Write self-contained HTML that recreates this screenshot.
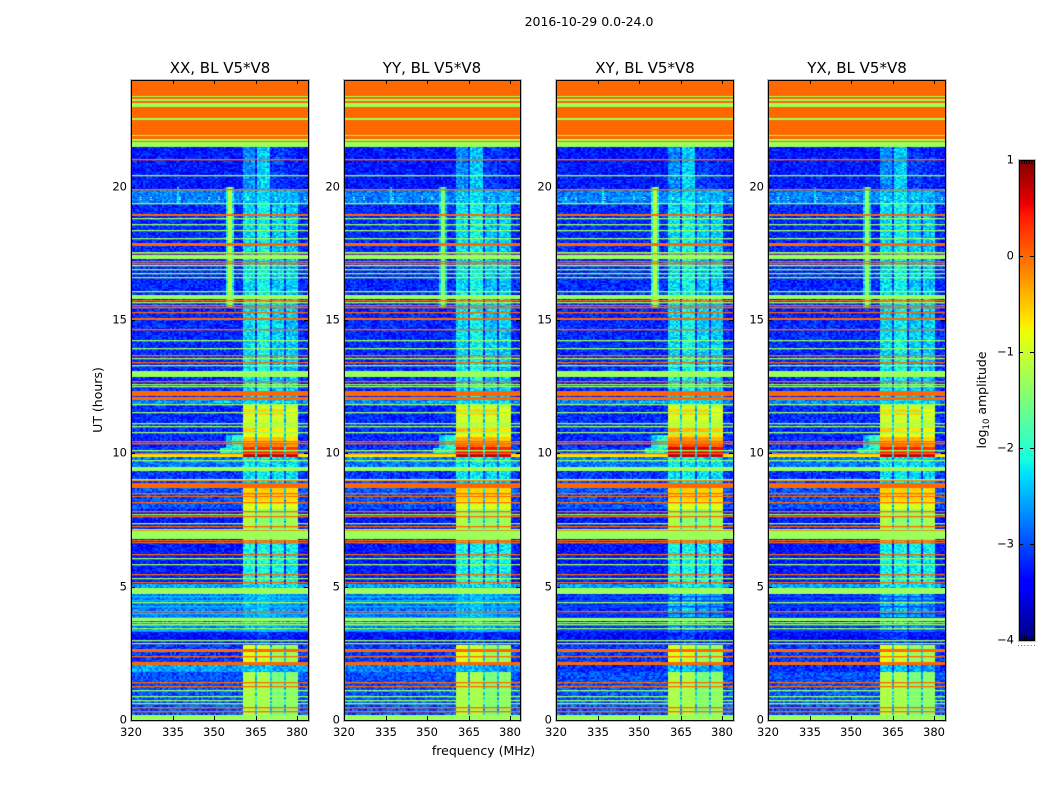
<!DOCTYPE html>
<html lang="en">
<head>
<meta charset="utf-8">
<title>2016-10-29 spectrogram</title>
<style>
html,body{margin:0;padding:0;background:#fff;width:1050px;height:800px;overflow:hidden}
#stage{position:relative;width:1050px;height:800px;font-family:"DejaVu Sans","Liberation Sans",sans-serif}
canvas{position:absolute;display:block}
svg{position:absolute;left:0;top:0}
text{fill:#000;font-family:"DejaVu Sans","Liberation Sans",sans-serif}
</style>
</head>
<body>
<div id="stage">
<canvas id="panel0" width="177" height="640" style="left:131px;top:80px"></canvas>
<canvas id="panel1" width="176" height="640" style="left:344px;top:80px"></canvas>
<canvas id="panel2" width="177" height="640" style="left:556px;top:80px"></canvas>
<canvas id="panel3" width="177" height="640" style="left:768px;top:80px"></canvas>
<canvas id="colorbar" width="15" height="480" style="left:1019px;top:160px"></canvas>
<svg id="overlay" width="1050" height="800" viewBox="0 0 1050 800">
  <text x="589" y="26" text-anchor="middle" font-size="12.5">2016-10-29 0.0-24.0</text>
  <text x="220" y="73" text-anchor="middle" font-size="15">XX, BL V5*V8</text>
  <text x="432" y="73" text-anchor="middle" font-size="15">YY, BL V5*V8</text>
  <text x="645" y="73" text-anchor="middle" font-size="15">XY, BL V5*V8</text>
  <text x="857" y="73" text-anchor="middle" font-size="15">YX, BL V5*V8</text>
  <text x="483.5" y="755" text-anchor="middle" font-size="12.5">frequency (MHz)</text>
  <text transform="translate(102,400) rotate(-90)" text-anchor="middle" font-size="12.5">UT (hours)</text>
  <text transform="translate(986,400) rotate(-90)" text-anchor="middle" font-size="12.5">log<tspan font-size="8.5" dy="3">10</tspan><tspan dy="-3"> amplitude</tspan></text>
</svg>
</div>
<script>
/* ---------- chart data (frequency in MHz, time in UT hours, level in log10 amplitude) ---------- */
const freqTicks = [320, 335, 350, 365, 380];
const hourTicks = [0, 5, 10, 15, 20];
const colorbarTicks = [1, 0, -1, -2, -3, -4];

const orangeLevel = 0;
const greenLevel = -1.3;

/* full-width saturated bands: [start hour, end hour] */
const orangeBands = [[21.66,24],[18.91,18.99],[17.78,17.87],[15.0,15.08],[12.15,12.34],[12.0,12.10],[8.69,8.88],[8.35,8.40],[2.55,2.66],[2.08,2.16]];
const greenBands = [[23.35,23.40],[23.23,23.27],[22.99,23.12],[22.51,22.58],[21.89,21.94],[21.72,21.78],[21.49,21.66],[17.28,17.45],[15.78,15.93],[12.86,13.07],[9.34,9.49],[6.79,7.07],[4.73,4.95],[3.71,3.81],[0,0.18]];

/* full-width single-row lines: hour */
const orangeLines = [21.03,19.90,17.52,17.22,17.15,15.75,15.55,15.50,15.29,14.66,13.70,13.44,12.70,10.47,10.38,10.02,8.99,8.50,8.16,7.83,7.66,7.29,7.13,6.75,6.69,6.21,5.46,5.19,4.10,2.40,1.41,1.29,0.50,0.33];
const greenLines = [20.43,19.40,18.81,18.59,18.36,18.06,17.56,17.05,16.90,16.75,16.60,16.10,15.68,14.24,13.94,13.56,13.31,12.59,12.53,11.85,11.55,11.15,11.04,10.79,10.13,9.75,9.04,7.73,7.40,7.16,6.06,5.85,5.33,4.41,3.68,3.60,3.45,3.01,2.90,1.13,0.90,0.75,0.63];

/* pale stripes in the 3.3 to 4.7 h interval: hour */
const paleStripeHours = [4.66,4.50,4.28,4.02,3.86,3.56,3.38];
const paleStripeLevels = [-2.45, -2.45, -3.0, -3.0];

/* time regions: [start hour, end hour, level outside blocks, block 1, block 2, block 3, block 4] */
const timeRegions = [
 [0,1.80,-3.0,-1.15,-1.2,-1.5,-1.4],
 [1.80,2.15,-2.65,-2.5,-2.5,-2.6,-2.6],
 [2.15,2.81,-3.1,-0.9,-1.0,-1.35,-1.3],
 [2.81,3.30,-3.35,-3.2,-3.1,-3.3,-3.3],
 [3.30,4.73,-2.8,-2.5,-2.4,-2.6,-2.7],
 [4.73,5.10,-2.6,-2.3,-2.3,-2.3,-2.3],
 [5.10,6.75,-3.3,-2.1,-2.1,-2.2,-2.2],
 [6.75,7.88,-3.3,-1.15,-1.4,-1.4,-1.25],
 [7.88,8.2,-3.0,-0.9,-0.9,-0.9,-0.9],
 [8.2,8.89,-3.0,-0.55,-0.55,-0.55,-0.6],
 [8.89,9.38,-3.1,-2.25,-2.2,-2.3,-2.3],
 [9.38,9.87,-2.8,-2.2,-2.2,-2.3,-2.3],
 [9.87,10.0,-0.7,0.75,0.75,0.7,0.65],
 [10.0,10.24,-3.1,0.35,0.35,0.35,0.25],
 [10.24,10.35,-3.2,-0.1,-0.1,-0.1,-0.3],
 [10.35,10.58,-3.2,-0.45,-0.45,-0.45,-0.65],
 [10.58,10.73,-3.2,-0.85,-0.85,-0.85,-0.95],
 [10.73,10.95,-3.2,-0.55,-0.7,-0.7,-0.8],
 [10.95,11.44,-3.2,-1.0,-1.0,-1.0,-1.05],
 [11.44,11.66,-3.2,-0.6,-0.55,-0.55,-0.8],
 [11.66,11.85,-3.2,-1.0,-1.0,-1.0,-1.1],
 [11.85,12.0,-2.7,-2.3,-2.3,-2.3,-2.3],
 [12.0,19.39,-3.2,-2.3,-2.15,-2.4,-2.4],
 [19.39,19.88,-2.75,-2.4,-2.3,-2.5,-2.5],
 [19.88,21.49,-3.3,-2.7,-2.4,-3.1,-3.2]
];

/* the four bright frequency blocks: [start MHz, end MHz] */
const blockEdges = [[360.5,365],[365.8,370.2],[371,375.2],[376,380]];

/* extra brightness of the 10 to 11 h blocks: XX, YY, XY, YX */
const panelBrightBoost = [0, 0.1, 0.25, 0.05];

/* per-panel outside-block level for some intervals: [start hour, end hour, XX, YY, XY, YX] */
const panelOutsideLevels = [
 [3.30,4.73,-2.8,-2.85,-3.2,-3.2],
 [1.80,2.15,-2.6,-2.75,-3.2,-3.2]
];

/* soft patches left of the blocks: [start MHz, end MHz, start hour, end hour, level] */
const glowPatches = [[354,360.5,10.2,10.7,-2.5],[356.5,360.5,10.2,10.7,-2.0],[350,360.5,11.88,11.97,-2.4],[352,360.5,10.0,10.2,-2.2]];

/* narrow interference line near 355.8 MHz */
const lineFreq = 355.8;
const lineStartHour = 15.5;
const lineEndHour = 20.0;
const lineLevelByPanel = [-1.15, -1.5, -1.15, -1.4];
const lineHaloByPanel = [-2.2, -2.5, -2.2, -2.4];

/* short faint line near 337.5 MHz */
const shortLineFreq = 337.5;
const shortLineStartHour = 19.4;
const shortLineEndHour = 20.0;
const shortLineLevel = -2.3;

/* bright spots in the 19.5 h interference row: MHz */
const spotFreqs = [323.3,326.9,337.5,348,351.3,361.9,372,382.7];
const spotHours = [19.52,19.62];
const spotLevel = -0.9;

/* fine-grain deviation sample (hand estimated, the per-cell noise is not read individually) */
const grainSample = [0.3,-0.7,0.9,-0.2,0.5,-0.9,0.1,0.7,-0.4,-0.8,0.6,0.2,-0.5,1,-0.1,-0.6,0.4,0.8,-1,0.2,-0.3,0.7,-0.7,0.5,0,-0.9,0.9,-0.2,0.3,-0.5,0.6,-0.8,0.1,1,-0.4,0.4,-0.6,0.2,0.8,-1,0.5,-0.1,-0.7,0.7,0.3,-0.3,0.9,-0.5,0,0.6,-0.9,0.4,-0.2,0.8,-0.6,0.1,-0.8,0.5,0.2,-0.4,0.7];

/* ---------- axis functions ---------- */
const panelLefts = [131, 344, 556, 768];
const panelWidths = [177, 176, 177, 177];
const pxPerMHz = 2.767;
const pxPerHour = 640 / 24;
const plotTop = 80;
const plotBottom = 720;
const cellMHz = 0.7;
const cellHours = 0.05;
function xOf(panel, f) { return panelLefts[panel] + (f - 320) * pxPerMHz; }
function yOf(h) { return plotBottom - h * pxPerHour; }
function innerX(f) { return (f - 320) * pxPerMHz; }
function innerY(h) { return 640 - h * pxPerHour; }
const cbarTop = 160;
const cbarHeight = 480;
function cbarY(v) { return cbarTop + (1 - v) / 5 * cbarHeight; }

function ramp(t, pts) {
  for (let i = 1; i < pts.length; i++) {
    if (t <= pts[i][0]) {
      const a = pts[i - 1], b = pts[i];
      return a[1] + (b[1] - a[1]) * (t - a[0]) / (b[0] - a[0]);
    }
  }
  return pts[pts.length - 1][1];
}
function jet(v) {
  const t = Math.max(0, Math.min(1, (v + 4) / 5));
  const r = ramp(t, [[0,0],[0.35,0],[0.66,1],[0.89,1],[1,0.5]]);
  const g = ramp(t, [[0,0],[0.125,0],[0.375,1],[0.64,1],[0.91,0],[1,0]]);
  const b = ramp(t, [[0,0.5],[0.11,1],[0.34,1],[0.65,0],[1,0]]);
  return 'rgb(' + Math.round(r * 255) + ',' + Math.round(g * 255) + ',' + Math.round(b * 255) + ')';
}

/* ---------- heatmap drawing ---------- */
function regionAt(h) {
  for (const r of timeRegions) { if (h >= r[0] && h < r[1]) return r; }
  return timeRegions[timeRegions.length - 1];
}
function outsideLevel(panel, h, region) {
  for (const o of panelOutsideLevels) { if (h >= o[0] && h < o[1]) return o[2 + panel]; }
  return region[2];
}
function cellLevel(panel, f, h) {
  const region = regionAt(h);
  const outer = outsideLevel(panel, h, region);
  let level = outer;
  if (f >= 360.5 && f < 380) {
    let inside = false;
    for (let b = 0; b < blockEdges.length; b++) {
      if (f >= blockEdges[b][0] && f < blockEdges[b][1]) {
        level = region[3 + b];
        if (h >= 10.0 && h < 11.0) level += panelBrightBoost[panel];
        inside = true;
      }
    }
    if (!inside) level = region[3] > -1.7 ? -2.4 : outer + 0.1;
  }
  for (const g of glowPatches) {
    if (f >= g[0] && f < g[1] && h >= g[2] && h < g[3]) level = Math.max(level, g[4]);
  }
  if (h >= lineStartHour && h < lineEndHour) {
    const d = Math.abs(f - lineFreq);
    if (d < 0.6) level = lineLevelByPanel[panel];
    else if (d < 1.4) level = Math.max(level, lineHaloByPanel[panel]);
  }
  if (h >= shortLineStartHour && h < shortLineEndHour && Math.abs(f - shortLineFreq) < 0.35) {
    level = Math.max(level, shortLineLevel);
  }
  return level;
}
/* one row: a full-strength pixel plus a one-third pixel below, about 1.33 px like the source rows */
function drawRowLine(ctx, w, h) {
  const y = Math.round(innerY(h));
  ctx.fillRect(0, y, w, 1);
  ctx.globalAlpha = 0.33;
  ctx.fillRect(0, y + 1, w, 1);
  ctx.globalAlpha = 1;
}
function drawBand(ctx, w, b) {
  const y = Math.round(innerY(b[1]));
  ctx.fillRect(0, y, w, Math.max(1, Math.round(innerY(b[0])) - y));
}
function drawPanel(panel) {
  const ctx = document.getElementById('panel' + panel).getContext('2d');
  const nCols = Math.ceil(64 / cellMHz);
  const nRows = Math.ceil(24 / cellHours);
  for (let row = 0; row < nRows; row++) {
    const h = row * cellHours;
    const y1 = Math.round(innerY(h));
    const y0 = Math.round(innerY(h + cellHours));
    for (let col = 0; col < nCols; col++) {
      const f = 320 + col * cellMHz;
      const x0 = Math.round(innerX(f));
      const x1 = Math.round(innerX(f + cellMHz));
      const level = cellLevel(panel, f + cellMHz / 2, h + cellHours / 2);
      const amp = level > -1.6 ? 0.07 : 0.33;
      const g = grainSample[(col * col * 3 + row * row * 5 + col * row + panel * 17) % grainSample.length];
      ctx.fillStyle = jet(level + amp * g);
      ctx.fillRect(x0, y0, Math.max(1, x1 - x0), Math.max(1, y1 - y0));
    }
  }
  const w = panelWidths[panel];
  /* spots */
  ctx.fillStyle = jet(spotLevel);
  for (const f of spotFreqs) {
    for (const h of spotHours) {
      ctx.fillRect(Math.round(innerX(f)), Math.round(innerY(h)), 2, 1);
    }
  }
  /* pale stripes */
  ctx.fillStyle = jet(paleStripeLevels[panel]);
  for (const h of paleStripeHours) drawRowLine(ctx, w, h);
  /* full-width bands and lines */
  ctx.fillStyle = jet(orangeLevel);
  for (const b of orangeBands) drawBand(ctx, w, b);
  for (const h of orangeLines) drawRowLine(ctx, w, h);
  ctx.fillStyle = jet(greenLevel);
  for (const b of greenBands) drawBand(ctx, w, b);
  for (const h of greenLines) drawRowLine(ctx, w, h);
}
for (let p = 0; p < 4; p++) drawPanel(p);

/* colorbar gradient */
(function () {
  const ctx = document.getElementById('colorbar').getContext('2d');
  for (let y = 0; y < cbarHeight; y++) {
    ctx.fillStyle = jet(1 - (y + 0.5) / cbarHeight * 5);
    ctx.fillRect(0, y, 15, 1);
  }
})();

/* ---------- axes ---------- */
const svgNS = 'http://www.w3.org/2000/svg';
const overlay = document.getElementById('overlay');
function addLine(x1, y1, x2, y2, name, color) {
  const el = document.createElementNS(svgNS, 'line');
  el.setAttribute('x1', x1);
  el.setAttribute('y1', y1);
  el.setAttribute('x2', x2);
  el.setAttribute('y2', y2);
  el.setAttribute('stroke', color || '#000');
  el.setAttribute('stroke-width', 1);
  
  
  overlay.appendChild(el);
}
function addLabel(x, y, anchor, content, name) {
  const el = document.createElementNS(svgNS, 'text');
  el.setAttribute('x', x);
  el.setAttribute('y', y);
  el.setAttribute('text-anchor', anchor);
  el.setAttribute('font-size', 11.5);
  el.textContent = content;
  
  
  overlay.appendChild(el);
}
function addFrame(x, y, w, h, name, color) {
  const el = document.createElementNS(svgNS, 'rect');
  el.setAttribute('x', x + 0.5);
  el.setAttribute('y', y + 0.5);
  el.setAttribute('width', w);
  el.setAttribute('height', h);
  el.setAttribute('fill', 'none');
  el.setAttribute('stroke', color);
  el.setAttribute('stroke-width', 1);
  
  
  overlay.appendChild(el);
}
for (let p = 0; p < 4; p++) {
  const left = panelLefts[p];
  const right = left + panelWidths[p];
  addFrame(left - 1, plotTop - 1, panelWidths[p] + 2, plotBottom - plotTop + 2, 'panel-frame-halo', '#bdbdbd');
  addFrame(left, plotTop, panelWidths[p], plotBottom - plotTop, 'panel-frame', '#000');
  for (const f of freqTicks) {
    const x = Math.round(xOf(p, f)) + 0.5;
    addLine(x, plotBottom, x, plotBottom - 4, 'x-tick');
    addLine(x, plotTop, x, plotTop + 4, 'x-tick-top');
    addLabel(x - 0.5, 736, 'middle', String(f), 'x-tick-label');
  }
  for (const h of hourTicks) {
    const y = Math.round(yOf(h)) + 0.5;
    addLine(left, y, left + 4, y, 'y-tick');
    addLine(right, y, right - 4, y, 'y-tick-right');
    addLabel(left - 4, y + 2.8, 'end', String(h), 'y-tick-label');
  }
}
addFrame(1018, cbarTop - 1, 17, cbarHeight + 2, 'colorbar-frame-halo', '#bdbdbd');
addFrame(1019, cbarTop, 15, cbarHeight, 'colorbar-frame', '#000');
for (const v of colorbarTicks) {
  const y = Math.round(cbarY(v)) + 0.5;
  addLine(1019, y, 1023, y, 'colorbar-tick');
  addLine(1034, y, 1030, y, 'colorbar-tick-right');
  addLabel(1014, y + 2.8, 'end', String(v).replace('-', '\u2212'), 'colorbar-tick-label');
}
for (let i = 1; i < 6; i++) {
  const x = 1019.5 + i * 2.5;
  addLine(x, cbarTop, x, cbarTop + 4, 'colorbar-top-mark');
  addLine(x, cbarTop + cbarHeight, x, cbarTop + cbarHeight - 4, 'colorbar-bottom-mark');
}
for (let i = 0; i < 6; i++) {
  addLine(1018 + i * 3.2, 645.5, 1019 + i * 3.2, 645.5, 'colorbar-squeezed-label', '#666');
}
</script>
</body>
</html>
